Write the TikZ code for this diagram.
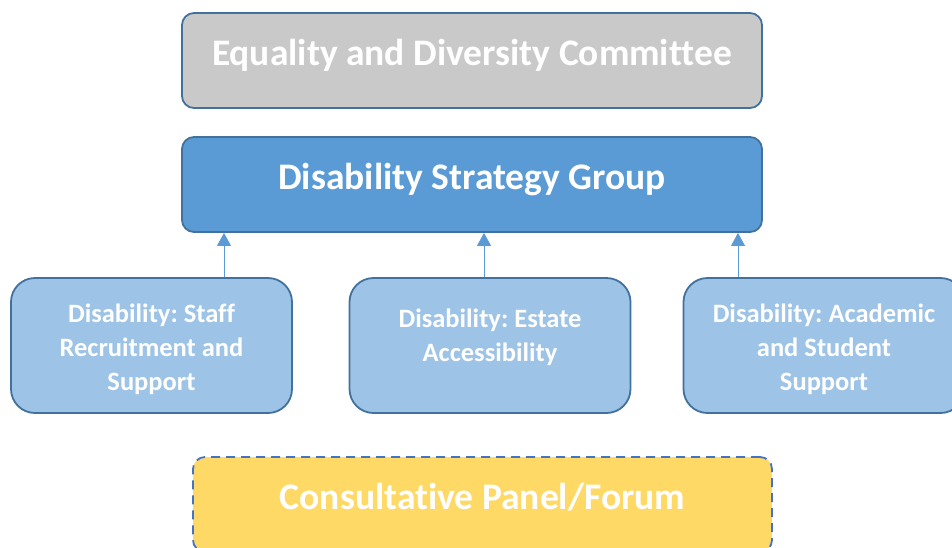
\documentclass[tikz,border=0pt]{standalone}
\usepackage{fontspec}
\setmainfont{Carlito}[Ligatures=NoCommon]
\usetikzlibrary{arrows.meta}

\definecolor{edgeblue}{HTML}{41719C}
\definecolor{dashblue}{HTML}{4472C4}
\definecolor{midblue}{HTML}{5B9BD5}
\definecolor{paleblue}{HTML}{9DC3E6}
\definecolor{boxgray}{HTML}{C9C9C9}
\definecolor{boxgold}{HTML}{FFD966}

\begin{document}
\frenchspacing
\begin{tikzpicture}[x=1pt,y=-1pt]
\tikzstyle{every node}+=[text=white,font=\bfseries,align=center,inner sep=0pt]
\tikzstyle{bigbox}=[draw=edgeblue,line width=1.8pt,rounded corners=12pt,
  minimum width=580pt,minimum height=95pt,text height=20pt,text depth=11pt,
  font=\fontsize{37.5}{42}\bfseries]
\tikzstyle{subbox}=[draw=edgeblue,line width=1.8pt,rounded corners=24pt,fill=paleblue,
  minimum width=281pt,minimum height=135pt,text height=96pt,text depth=6pt,
  font=\fontsize{26.5}{34}\bfseries]
\tikzstyle{arr}=[midblue,line width=0.8pt,-{Triangle[width=14pt,length=13pt]}]
\clip (0,0) rectangle (952,547);
% top of the chart
\node [bigbox,fill=boxgray] (edc) at (472,60.5) {Equality and Diversity Committee};
\node [bigbox,fill=midblue] (dsg) at (472,184.5) {Disability Strategy Group};
% the three sub groups
\node [subbox] (staff) at (151.5,345.5) {Disability: Staff\\Recruitment and\\Support};
\node [subbox,text height=38pt] (estate) at (490,345.5) {Disability: Estate\\Accessibility};
\node [subbox] (academic) at (824,345.5) {Disability: Academic\\and Student\\Support};
% consultative panel
\node [bigbox,fill=boxgold,draw=dashblue,dash pattern=on 9pt off 6pt,minimum width=579pt]
  (forum) at (482.5,504.5) {Consultative Panel/Forum};
% links up to the strategy group
\draw [arr] ([xshift=72.5pt]staff.north) -- ([xshift=72.5pt]staff.north |- dsg.south);
\draw [arr] ([xshift=-6pt]estate.north) -- ([xshift=-6pt]estate.north |- dsg.south);
\draw [arr] ([xshift=-86pt]academic.north) -- ([xshift=-86pt]academic.north |- dsg.south);
\end{tikzpicture}
\end{document}
